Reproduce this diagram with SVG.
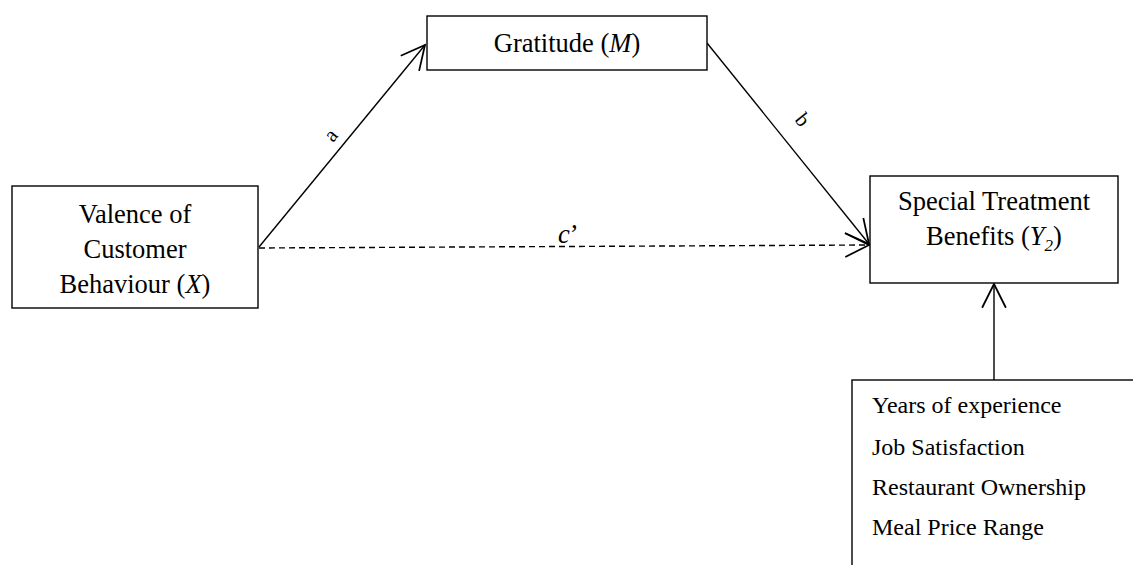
<svg xmlns="http://www.w3.org/2000/svg" width="1133" height="565" viewBox="0 0 1133 565">
<style>
.box{fill:#fff;stroke:#000;stroke-width:1.4}
.t{font-family:"Liberation Serif","Times New Roman",serif;font-size:26.5px;fill:#000}
.c{text-anchor:middle}
.s{font-size:24px}
.lbl{font-family:"Liberation Serif","Times New Roman",serif;font-size:21px;fill:#000}
.ln{stroke:#000;stroke-width:1.4;fill:none}
.dash{stroke-dasharray:6,4}
</style>
<defs>
<marker id="arr" markerUnits="userSpaceOnUse" markerWidth="30" markerHeight="30" viewBox="-22 -12 24 24" refX="0" refY="0" orient="auto">
<path d="M-19,-9.5 L0,0 L-19,9.5" fill="none" stroke="#000" stroke-width="1.4"/>
</marker>
</defs>
<rect width="1133" height="565" fill="#fff"/>
<g id="connectors">
<line class="ln" x1="259" y1="247" x2="425" y2="45" marker-end="url(#arr)"/>
<line class="ln" x1="707" y1="43" x2="869" y2="244" marker-end="url(#arr)"/>
<line class="ln dash" x1="259" y1="248" x2="869" y2="245" marker-end="url(#arr)"/>
<line class="ln" x1="994" y1="380" x2="994" y2="284" marker-end="url(#arr)"/>
<text class="lbl" transform="translate(333,143) rotate(-50.6)">a</text>
<text class="lbl" transform="translate(794,120) rotate(51)">b</text>
<text class="t" x="558" y="243"><tspan font-style="italic">c</tspan>’</text>
</g>
<g id="gratitude">
<rect class="box" x="427" y="16" width="280" height="54"/>
<text class="t c" x="567" y="52">Gratitude (<tspan font-style="italic">M</tspan>)</text>
</g>
<g id="valence">
<rect class="box" x="12" y="186" width="246" height="122"/>
<text class="t c" x="135" y="223">Valence of</text>
<text class="t c" x="135" y="258">Customer</text>
<text class="t c" x="135" y="293">Behaviour (<tspan font-style="italic">X</tspan>)</text>
</g>
<g id="special">
<rect class="box" x="870" y="176" width="248" height="107"/>
<text class="t c" x="994" y="210">Special Treatment</text>
<text class="t c" x="994" y="245">Benefits (<tspan font-style="italic">Y</tspan><tspan font-size="17" font-style="italic" dy="6">2</tspan><tspan dy="-6">)</tspan></text>
</g>
<g id="controls">
<rect class="box" x="852" y="380" width="320" height="220"/>
<text class="t s" x="872" y="413">Years of experience</text>
<text class="t s" x="872" y="455">Job Satisfaction</text>
<text class="t s" x="872" y="495">Restaurant Ownership</text>
<text class="t s" x="872" y="535">Meal Price Range</text>
</g>
</svg>
